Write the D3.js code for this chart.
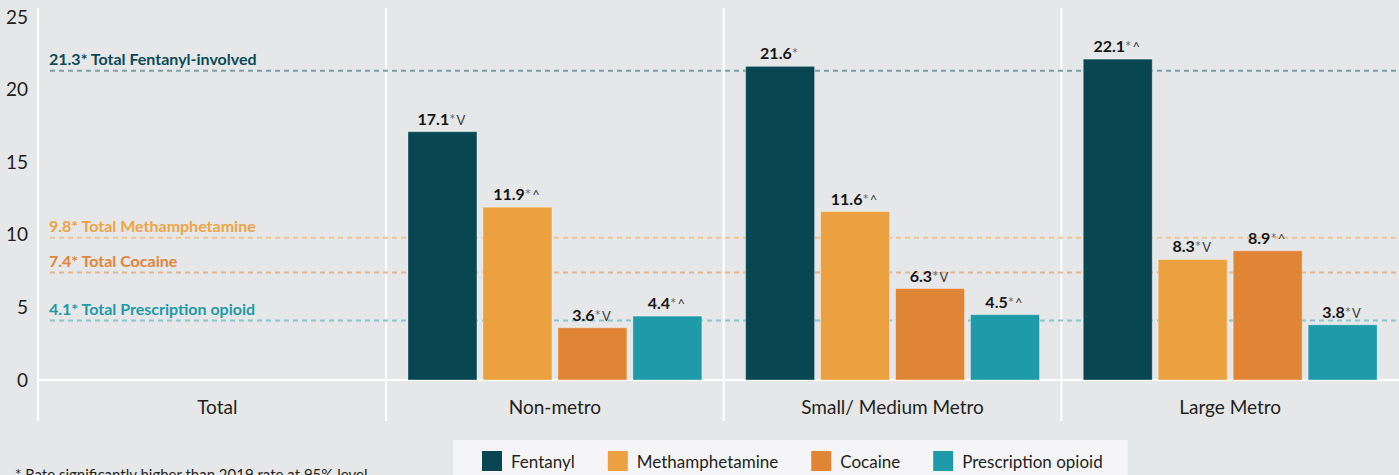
<!DOCTYPE html>
<html>
<head>
<meta charset="utf-8">
<script src="https://cdn.jsdelivr.net/npm/d3@7"></script>
<style>
  html, body { margin: 0; padding: 0; background: #e6e7e8; }
  svg { display: block; }
  text { font-family: "Lato", "Liberation Sans", sans-serif; }
</style>
</head>
<body>
<svg id="chart" width="1399" height="475"></svg>
<script>
// ---- data ----
const categories = ["Total", "Non-metro", "Small/ Medium Metro", "Large Metro"];
const seriesNames = ["Fentanyl", "Methamphetamine", "Cocaine", "Prescription opioid"];
const fentanyl = [null, 17.1, 21.6, 22.1];
const methamphetamine = [null, 11.9, 11.6, 8.3];
const cocaine = [null, 3.6, 6.3, 8.9];
const prescriptionOpioid = [null, 4.4, 4.5, 3.8];
const fentanylMarks = ["", "*V", "*", "*^"];
const methMarks = ["", "*^", "*^", "*V"];
const cocaineMarks = ["", "*V", "*V", "*^"];
const rxMarks = ["", "*^", "*^", "*V"];
const totalValues = [21.3, 9.8, 7.4, 4.1];
const totalLabels = ["Total Fentanyl-involved", "Total Methamphetamine", "Total Cocaine", "Total Prescription opioid"];
const yTicks = [0, 5, 10, 15, 20, 25];
const footnote = "* Rate significantly higher than 2019 rate at 95% level";

// ---- styles ----
const barColors = ["#084752", "#eba140", "#e08435", "#1f9aa8"];
const labelColors = ["#0b4b57", "#eca445", "#e2843a", "#1f9aa8"];
const refLineColors = ["#7e9fa5", "#f0c68e", "#e8b68e", "#84c6cc"];

const seriesValues = [fentanyl, methamphetamine, cocaine, prescriptionOpioid];
const seriesMarks = [fentanylMarks, methMarks, cocaineMarks, rxMarks];

const svg = d3.select("#chart");
const plotLeft = 38, plotTop = 8, baseY = 380, bandBottom = 421;

const y = d3.scaleLinear().domain([0, 25]).range([baseY, 17]);
const x0 = d3.scaleBand().domain(categories).range([48.5, 1399]).padding(0);
const x1 = d3.scaleBand().domain(seriesNames).range([0, x0.bandwidth()])
  .paddingInner(0.08).paddingOuter(0.2917);

// separators
const sepXs = [plotLeft].concat(categories.slice(1).map(c => x0(c)));
svg.append("g").selectAll("line").data(sepXs).join("line")
  .attr("x1", d => d).attr("x2", d => d)
  .attr("y1", plotTop).attr("y2", bandBottom)
  .attr("stroke", "#ffffff").attr("stroke-width", 2);
svg.append("line")
  .attr("x1", plotLeft - 1).attr("x2", 1399)
  .attr("y1", baseY).attr("y2", baseY)
  .attr("stroke", "#ffffff").attr("stroke-width", 2);

// y axis
const yAxis = d3.axisLeft(y).tickValues(yTicks).tickSize(0).tickPadding(0);
const yg = svg.append("g").attr("transform", "translate(28,0)").call(yAxis);
yg.select(".domain").remove();
yg.selectAll("text").attr("font-size", 19).attr("fill", "#231f20")
  .style("font-family", "'Lato', sans-serif");

// reference lines
const refG = svg.append("g");
totalValues.forEach((v, i) => {
  refG.append("line")
    .attr("x1", 50).attr("x2", 1399)
    .attr("y1", y(v)).attr("y2", y(v))
    .attr("stroke", refLineColors[i]).attr("stroke-width", 2)
    .attr("stroke-dasharray", "5,4");
  refG.append("text")
    .attr("x", 49).attr("y", y(v) - 5.5)
    .attr("fill", labelColors[i]).attr("font-size", 16).attr("font-weight", "bold")
    .text(d3.format(".1f")(v) + "* " + totalLabels[i]);
});

// bars
const barG = svg.append("g");
categories.forEach((c, ci) => {
  seriesNames.forEach((s, si) => {
    const v = seriesValues[si][ci];
    if (v == null) return;
    const bx = x0(c) + x1(s);
    barG.append("rect")
      .attr("x", bx).attr("y", y(v))
      .attr("width", x1.bandwidth()).attr("height", y(0) - y(v))
      .attr("fill", barColors[si])
      .attr("stroke", "rgba(255,255,255,0.35)").attr("stroke-width", 1);
    const mark = seriesMarks[si][ci];
    const t = barG.append("text")
      .attr("x", bx + x1.bandwidth() / 2 - 1).attr("y", y(v) - 7)
      .attr("text-anchor", "middle");
    t.append("tspan").attr("font-weight", "bold").attr("font-size", 16)
      .attr("fill", "#161616").text(d3.format(".1f")(v));
    t.append("tspan").attr("font-size", 15).attr("fill", "#6d6e70").text(mark.slice(0, 1));
    if (mark.length > 1) {
      t.append("tspan").attr("font-size", 13).attr("fill", "#3a3a3a").attr("dx", 1)
        .text(mark.slice(1));
    }
  });
});

// category labels
svg.append("g").selectAll("text").data(categories).join("text")
  .attr("x", d => x0(d) + x0.bandwidth() / 2)
  .attr("y", 414)
  .attr("text-anchor", "middle")
  .attr("font-size", 19).attr("fill", "#231f20")
  .text(d => d);

// legend
const legG = svg.append("g");
const legBox = legG.append("rect").attr("y", 440).attr("height", 60).attr("fill", "#f5f5f8");
let lx = 482;
const itemsG = legG.append("g");
seriesNames.forEach((s, i) => {
  itemsG.append("rect").attr("x", lx).attr("y", 451).attr("width", 20).attr("height", 20)
    .attr("fill", barColors[i]);
  const t = itemsG.append("text").attr("x", lx + 29).attr("y", 468)
    .attr("font-size", 17).attr("fill", "#231f20").text(s);
  lx += 29 + t.node().getComputedTextLength() + 33;
});
legBox.attr("x", 453).attr("width", (lx - 33 + 25) - 453);

// footnote
svg.append("text").attr("x", 15).attr("y", 480)
  .attr("font-size", 15).attr("fill", "#231f20").text(footnote);
</script>
</body>
</html>
